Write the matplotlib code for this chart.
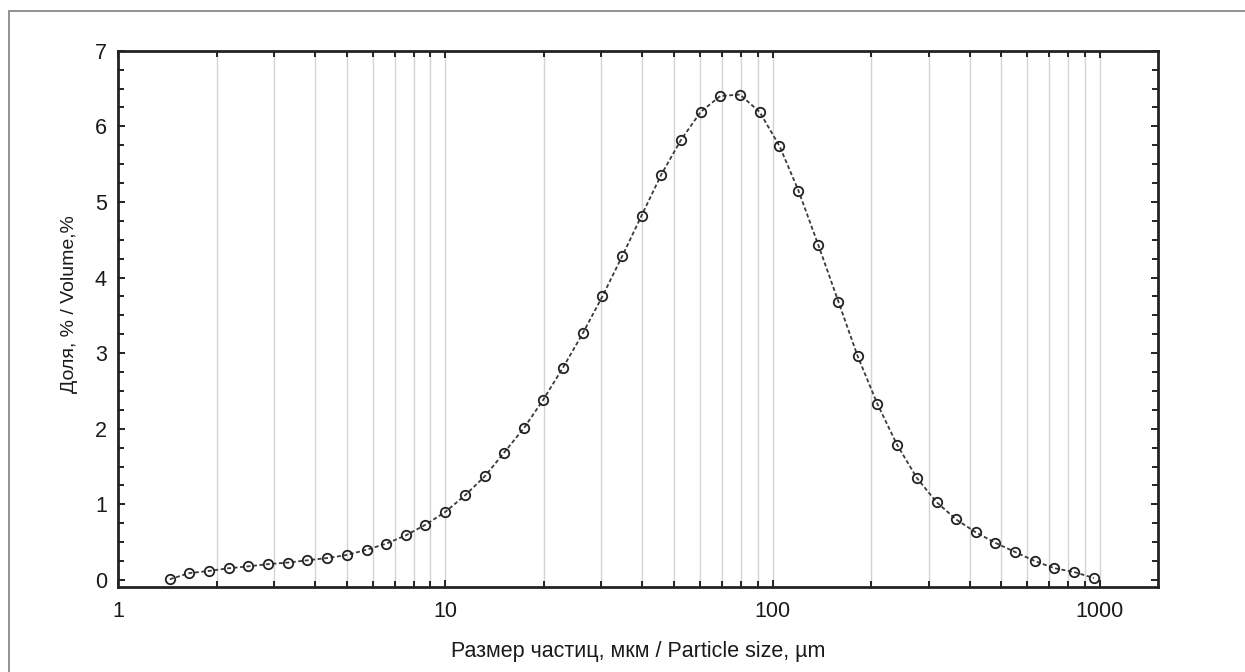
import numpy as np
import matplotlib
matplotlib.use("Agg")
import matplotlib.pyplot as plt
from matplotlib.ticker import MultipleLocator, FixedLocator, NullFormatter
from matplotlib.patches import Rectangle

plt.rcParams['font.family'] = ['Liberation Sans', 'DejaVu Sans']

#########################################################
# Data
#########################################################

size_um = [1.44, 1.65, 1.90, 2.18, 2.50, 2.88, 3.30, 3.79, 4.36, 5.00,
           5.75, 6.60, 7.58, 8.70, 10.0, 11.5, 13.2, 15.1, 17.4, 19.9,
           22.9, 26.3, 30.2, 34.7, 39.8, 45.7, 52.5, 60.3, 69.2, 79.5,
           91.3, 105, 120, 138, 159, 182, 209, 240, 276, 317,
           364, 418, 480, 551, 633, 727, 835, 959]

volume_pct = [0.01, 0.09, 0.12, 0.155, 0.18, 0.21, 0.23, 0.26, 0.29, 0.33,
              0.40, 0.48, 0.59, 0.73, 0.90, 1.12, 1.37, 1.68, 2.01, 2.38,
              2.81, 3.26, 3.75, 4.28, 4.82, 5.36, 5.82, 6.19, 6.40, 6.42,
              6.19, 5.74, 5.15, 4.43, 3.68, 2.96, 2.33, 1.79, 1.35, 1.03,
              0.80, 0.63, 0.49, 0.37, 0.25, 0.155, 0.105, 0.026]

x_ticks = [1, 10, 100, 1000]
x_ticklabels = ['1', '10', '100', '1000']
grid_lines = [2, 3, 4, 5, 6, 7, 8, 9, 10,
              20, 30, 40, 50, 60, 70, 80, 90, 100,
              200, 300, 400, 500, 600, 700, 800, 900, 1000]

xlabel = 'Размер частиц, мкм / Particle size, µm'
ylabel = 'Доля, % / Volume,%'

#########################################################
# Plot
#########################################################

W, H = 1245, 672
fig = plt.figure(figsize=(W / 100, H / 100), dpi=100)
ax = fig.add_axes([118 / W, 1 - 587 / H, 1040 / W, (587 - 50.7) / H])

for g in grid_lines:
    ax.axvline(g, color='#d4d4d4', lw=1.0, zorder=0)

ax.plot(size_um, volume_pct, linestyle=(0, (2.2, 1.4)), color='#3a3a3a', lw=1.3,
        marker='o', ms=6.8, mfc='none', mec='#222222', mew=1.3, zorder=3)

ax.set_xscale('log')
ax.set_xlim(1, 1506)
ax.set_ylim(-0.093, 7.0)

ax.xaxis.set_major_locator(FixedLocator(x_ticks))
ax.set_xticklabels(x_ticklabels)
ax.xaxis.set_minor_locator(FixedLocator([g for g in grid_lines if g not in x_ticks]))
ax.xaxis.set_minor_formatter(NullFormatter())
ax.yaxis.set_major_locator(MultipleLocator(1))
ax.yaxis.set_minor_locator(MultipleLocator(0.25))

ax.tick_params(axis='both', which='both', direction='in', top=True, right=True,
               width=1.4, color='#222222', labelsize=15.5, labelcolor='#1a1a1a')
ax.tick_params(axis='both', which='major', length=5)
ax.tick_params(axis='both', which='minor', length=4)
ax.tick_params(axis='x', pad=10)
ax.tick_params(axis='y', pad=8)

for s in ax.spines.values():
    s.set_linewidth(2.0)
    s.set_color('#222222')

ax.set_xlabel(xlabel, fontsize=15.5, color='#1a1a1a')
ax.set_ylabel(ylabel, fontsize=14, color='#1a1a1a')
ax.xaxis.set_label_coords(0.5, -0.10)
ax.yaxis.set_label_coords(-0.038, 0.528)

# outer frame of the figure (cut off at right and bottom)
fig.add_artist(Rectangle((9 / W, -0.1), 2.0, 1 - 11 / H + 0.1, transform=fig.transFigure,
                         fill=False, edgecolor='#8a8a8a', lw=1.3))

fig.savefig('out.png', dpi=100)
